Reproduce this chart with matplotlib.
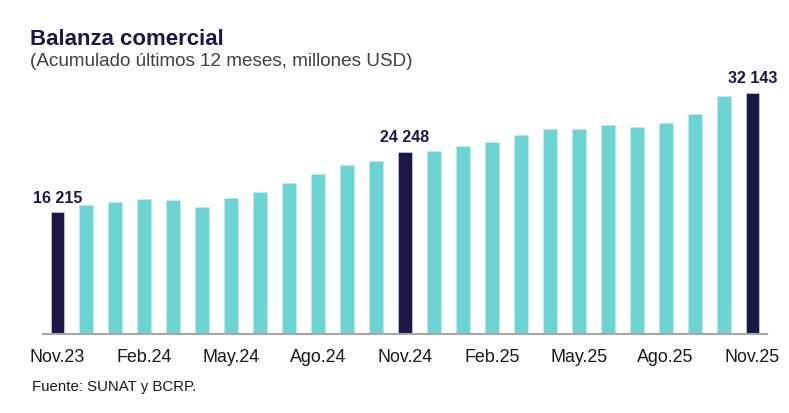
import matplotlib
matplotlib.use("Agg")
import matplotlib.pyplot as plt

plt.rcParams['font.family'] = ['Liberation Sans', 'DejaVu Sans']

months = ["Nov.23", "Dic.23", "Ene.24", "Feb.24", "Mar.24", "Abr.24", "May.24", "Jun.24",
          "Jul.24", "Ago.24", "Set.24", "Oct.24", "Nov.24", "Dic.24", "Ene.25", "Feb.25",
          "Mar.25", "Abr.25", "May.25", "Jun.25", "Jul.25", "Ago.25", "Set.25", "Oct.25", "Nov.25"]
values = [16215, 17180, 17540, 18020, 17850, 16960, 18110, 18910, 20150, 21310, 22510, 23000,
          24248, 24380, 25040, 25610, 26470, 27270, 27310, 27840, 27530, 28100, 29300, 31700, 32143]
highlight = ["Nov.23", "Nov.24", "Nov.25"]
tick_labels = ["Nov.23", "Feb.24", "May.24", "Ago.24", "Nov.24", "Feb.25", "May.25", "Ago.25", "Nov.25"]

navy = "#1b1847"
teal = "#6cd4d2"

fig = plt.figure(figsize=(7.89, 4.13), dpi=100)
ax = fig.add_axes([43/789, (413-334)/413, 724/789, (34000/133.2)/413])

x = list(range(len(months)))
colors = [navy if m in highlight else teal for m in months]
ax.bar(x, values, width=0.48, color=colors, edgecolor="#c8ecec", linewidth=0.4)

for i, (m, v) in enumerate(zip(months, values)):
    if m in highlight:
        ax.text(i, v + 900, f"{v:,}".replace(",", " "), ha="center", va="bottom",
                fontsize=11.5, fontweight="bold", color=navy)

ax.set_xlim(-0.5, len(months) - 0.5)
ax.set_ylim(0, 34000)
ax.set_yticks([])
for s in ["top", "right", "left"]:
    ax.spines[s].set_visible(False)
ax.spines["bottom"].set_color("#a6a6a6")
ax.spines["bottom"].set_linewidth(1.5)
tick_pos = [months.index(t) for t in tick_labels]
ax.set_xticks(tick_pos)
ax.set_xticklabels(tick_labels, fontsize=12.9, color="#1a1a1a")
ax.tick_params(axis="x", length=0, pad=10.5)

fig.text(30/789, 1 - 45/413, "Balanza comercial", fontsize=16, fontweight="bold",
         color=navy, ha="left", va="baseline")
fig.text(30/789, 1 - 66/413, "(Acumulado últimos 12 meses, millones USD)", fontsize=13.6,
         color="#404040", ha="left", va="baseline")
fig.text(32/789, 1 - 391/413, "Fuente: SUNAT y BCRP.", fontsize=10.8, color="#1a1a1a",
         ha="left", va="baseline")

fig.savefig("out.png", dpi=100)
